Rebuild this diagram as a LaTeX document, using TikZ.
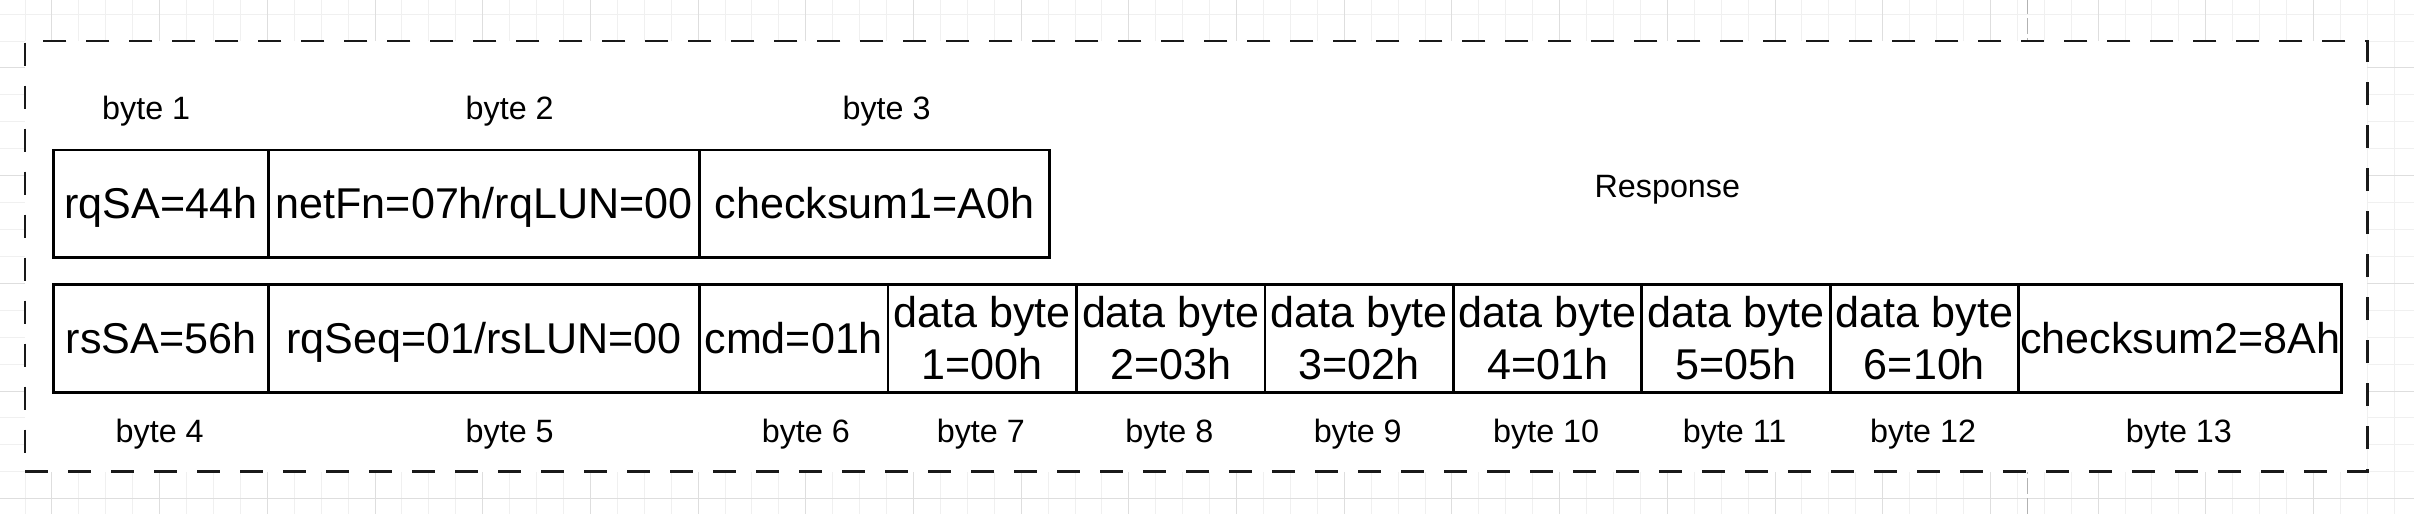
\documentclass[tikz,border=0pt]{standalone}
\usepackage{fontspec}
\setmainfont{Liberation Sans}
\newcommand{\cst}{\rule[-0.212em]{0pt}{1.117em}}
\begin{document}
\begin{tikzpicture}[x=0.26923mm, y=-0.26923mm,
  gminor/.style={draw=black!6, line width=0.1mm},
  gmajor/.style={draw=black!13, line width=0.1mm},
  pbreak/.style={draw=black!30, line width=0.1mm, dash pattern=on 1.6mm off 0.4mm},
  container/.style={draw=black!90, fill=white, line width=0.27mm, dash pattern=on 2.3mm off 2.0mm, minimum width=234.23mm, minimum height=43.077mm, inner sep=0},
  cell/.style={draw=black, line width=0.27mm, inner sep=0, anchor=north west, minimum height=10.769mm, align=center, font=\fontsize{12.26pt}{14.71pt}\selectfont},
  lbl/.style={inner sep=0, anchor=base, font=\fontsize{9.19pt}{11.03pt}\selectfont}]
\useasboundingbox (-19.314,-25.257) rectangle (877.34,165.66);
\begin{scope}
\clip (-19.314,-25.257) rectangle (877.34,165.66);
\foreach \i in {-10,0,...,870} \draw[gminor] (\i,-26) -- (\i,166);
\foreach \j in {-20,-10,...,160} \draw[gminor] (-20,\j) -- (878,\j);
\foreach \i in {0,40,...,840} \draw[gmajor] (\i,-26) -- (\i,166);
\foreach \j in {0,40,...,160} \draw[gmajor] (-20,\j) -- (878,\j);
\draw[pbreak] (733.6,-26) -- (733.6,166);
\end{scope}
\node[container] (resp) at (425,70) {};
% top row
\node[cell, minimum width=21.538mm] (c1) at (0,30) {\cst rqSA=44h};
\node[cell, minimum width=43.077mm] (c2) at (80,30) {\cst netFn=07h/rqLUN=00};
\node[cell, minimum width=35.000mm] (c3) at (240,30) {\cst checksum1=A0h};
% bottom row
\node[cell, minimum width=21.538mm] (c4) at (0,80) {\cst rsSA=56h};
\node[cell, minimum width=43.077mm] (c5) at (80,80) {\cst rqSeq=01/rsLUN=00};
\node[cell, minimum width=18.846mm] (c6) at (240,80) {\cst cmd=01h};
\node[cell, minimum width=18.846mm] (c7) at (310,80) {\cst data byte\\\cst 1=00h};
\node[cell, minimum width=18.846mm] (c8) at (380,80) {\cst data byte\\\cst 2=03h};
\node[cell, minimum width=18.846mm] (c9) at (450,80) {\cst data byte\\\cst 3=02h};
\node[cell, minimum width=18.846mm] (c10) at (520,80) {\cst data byte\\\cst 4=01h};
\node[cell, minimum width=18.846mm] (c11) at (590,80) {\cst data byte\\\cst 5=05h};
\node[cell, minimum width=18.846mm] (c12) at (660,80) {\cst data byte\\\cst 6=10h};
\node[cell, minimum width=32.308mm] (c13) at (730,80) {\cst checksum2=8Ah};
% labels
\node[lbl] (l1) at (35,19) {byte 1};
\node[lbl] (l2) at (170,19) {byte 2};
\node[lbl] (l3) at (310,19) {byte 3};
\node[lbl] (lr) at (600,48) {Response};
\node[lbl] (l4) at (40,139) {byte 4};
\node[lbl] (l5) at (170,139) {byte 5};
\node[lbl] (l6) at (280,139) {byte 6};
\node[lbl] (l7) at (345,139) {byte 7};
\node[lbl] (l8) at (415,139) {byte 8};
\node[lbl] (l9) at (485,139) {byte 9};
\node[lbl] (l10) at (555,139) {byte 10};
\node[lbl] (l11) at (625,139) {byte 11};
\node[lbl] (l12) at (695,139) {byte 12};
\node[lbl] (l13) at (790,139) {byte 13};
\end{tikzpicture}
\end{document}
